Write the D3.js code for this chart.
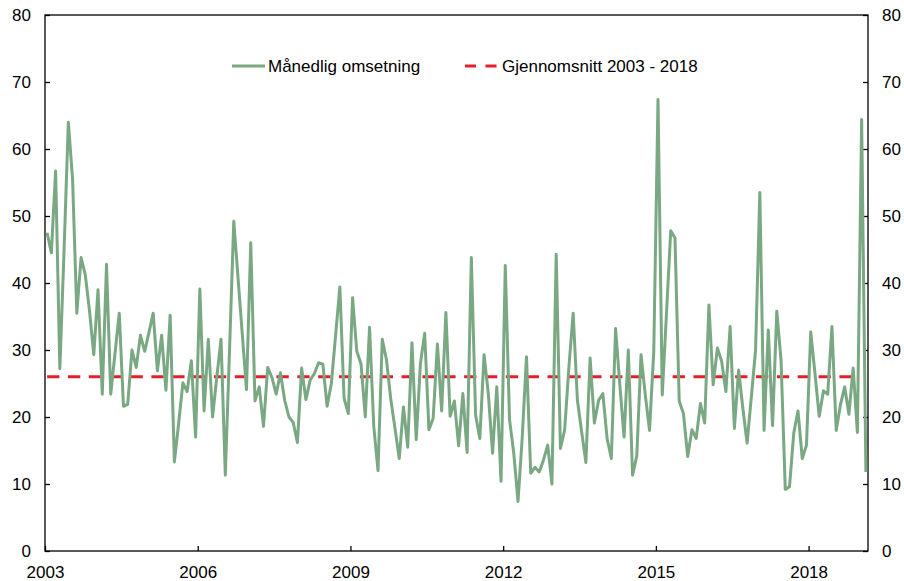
<!DOCTYPE html>
<html>
<head>
<meta charset="utf-8">
<script src="https://cdn.jsdelivr.net/npm/d3@7"></script>
<style>
  body { margin: 0; background: #fff; }
  text { font-family: "Liberation Sans", Arial, sans-serif; }
</style>
</head>
<body>
<div id="chart"></div>
<script>
// monthly turnover, Jan 2003 - Feb 2019
const omsetning = [
  47.5, 44.5, 56.7, 27.2, 45.0, 64.0, 55.5, 35.5, 43.8, 41.2, 35.8, 29.3,
  39.0, 23.4, 42.8, 23.4, 29.5, 35.5, 21.6, 21.9, 30.0, 27.4, 32.2, 29.8,
  32.6, 35.5, 26.9, 32.2, 24.0, 35.2, 13.3, 19.0, 25.1, 23.8, 28.4, 17.0,
  39.1, 20.9, 31.6, 20.0, 26.0, 31.6, 11.3, 30.0, 49.2, 40.8, 32.4, 24.1,
  46.0, 22.4, 24.5, 18.6, 27.4, 25.9, 23.4, 26.6, 22.5, 20.0, 19.2, 16.2,
  27.3, 22.6, 25.5, 26.5, 28.1, 27.9, 21.6, 25.0, 32.2, 39.4, 22.8, 20.5,
  37.8, 29.8, 27.9, 20.0, 33.4, 18.6, 12.0, 31.6, 28.5, 22.7, 18.3, 13.8,
  21.5, 15.5, 31.1, 16.6, 28.0, 32.5, 18.1, 19.8, 30.9, 20.9, 35.6, 20.1,
  22.4, 15.7, 23.5, 14.7, 43.8, 20.3, 16.8, 29.3, 23.5, 14.6, 24.5, 10.4,
  42.6, 19.6, 14.6, 7.4, 17.0, 29.0, 11.6, 12.5, 11.8, 13.6, 15.8, 10.0,
  44.3, 15.3, 18.1, 27.5, 35.5, 22.5, 17.8, 13.2, 28.8, 19.1, 22.5, 23.5,
  16.8, 13.8, 33.2, 24.8, 17.0, 30.0, 11.3, 14.2, 29.3, 23.3, 18.0, 29.8,
  67.4, 23.3, 35.5, 47.8, 46.7, 22.4, 20.5, 14.1, 18.1, 16.8, 22.0, 19.1,
  36.7, 24.8, 30.3, 28.3, 23.8, 33.5, 18.3, 27.0, 21.3, 16.1, 23.0, 30.0,
  53.5, 18.0, 33.0, 18.7, 35.8, 28.5, 9.2, 9.6, 17.6, 20.9, 13.8, 15.8,
  32.7, 26.5, 20.1, 23.9, 23.4, 33.5, 18.0, 21.8, 24.5, 20.4, 27.3, 17.7,
  64.4, 11.8
];
const startYear = 2003;
const yearLabels = ["2003", "2006", "2009", "2012", "2015", "2018"];
const yTicks = [0, 10, 20, 30, 40, 50, 60, 70, 80];
const snitt = 26.0;           // gjennomsnitt 2003 - 2018
const snittPeriode = ["2003", "2018"];
const seriesNames = ["Månedlig omsetning", "Gjennomsnitt 2003 - 2018"];

const width = 904, height = 581;
const plot = {left: 45, right: 868, top: 15, bottom: 551};
const green = "#7aa882", red = "#e3202a";

const monthIdx = (year, m) => (+year - startYear) * 12 + m;

const x = d3.scaleLinear().domain([-0.5, omsetning.length - 0.5]).range([plot.left, plot.right]);
const y = d3.scaleLinear().domain([0, 80]).range([plot.bottom, plot.top]);

const svg = d3.select("#chart").append("svg")
    .attr("width", width).attr("height", height);

// frame
svg.append("rect")
    .attr("x", plot.left).attr("y", plot.top)
    .attr("width", plot.right - plot.left).attr("height", plot.bottom - plot.top)
    .attr("fill", "none").attr("stroke", "#000").attr("stroke-width", 1.3);

const fs = "17px";

const yl = svg.append("g")
    .attr("transform", `translate(${plot.left},0)`)
    .call(d3.axisLeft(y).tickValues(yTicks).tickSize(-5).tickPadding(14));
const yr = svg.append("g")
    .attr("transform", `translate(${plot.right},0)`)
    .call(d3.axisRight(y).tickValues(yTicks).tickSize(-5).tickPadding(14));
const xa = svg.append("g")
    .attr("transform", `translate(0,${plot.bottom})`)
    .call(d3.axisBottom(x)
        .tickValues(yearLabels.map(d => monthIdx(d, 0) - 0.5))
        .tickFormat((d, i) => yearLabels[i])
        .tickSize(-5).tickPadding(15));

[yl, yr, xa].forEach(g => {
    g.select(".domain").remove();
    g.selectAll(".tick line").attr("stroke", "#000").attr("stroke-width", 1.3);
    g.selectAll("text").attr("font-size", fs).attr("fill", "#000")
        .style("font-family", '"Liberation Sans", Arial, sans-serif');
});

// average line
svg.append("line")
    .attr("x1", x(monthIdx(snittPeriode[0], 0)))
    .attr("x2", x(monthIdx(snittPeriode[1], 11)))
    .attr("y1", y(snitt)).attr("y2", y(snitt))
    .attr("stroke", red).attr("stroke-width", 3)
    .attr("stroke-dasharray", "12.3,8.55");

// monthly series
const line = d3.line().x((d, i) => x(i)).y(d => y(d));
svg.append("path")
    .datum(omsetning)
    .attr("d", line)
    .attr("fill", "none")
    .attr("stroke", green)
    .attr("stroke-width", 3)
    .attr("stroke-linejoin", "round");

// legend
const lg = svg.append("g");
lg.append("line")
    .attr("x1", 232).attr("x2", 265).attr("y1", 66).attr("y2", 66)
    .attr("stroke", green).attr("stroke-width", 3);
lg.append("text").attr("x", 268).attr("y", 72)
    .attr("font-size", fs).text(seriesNames[0]);
lg.append("line")
    .attr("x1", 465).attr("x2", 497).attr("y1", 66).attr("y2", 66)
    .attr("stroke", red).attr("stroke-width", 3)
    .attr("stroke-dasharray", "11,9.5");
lg.append("text").attr("x", 502).attr("y", 72)
    .attr("font-size", fs).text(seriesNames[1]);
</script>
</body>
</html>
